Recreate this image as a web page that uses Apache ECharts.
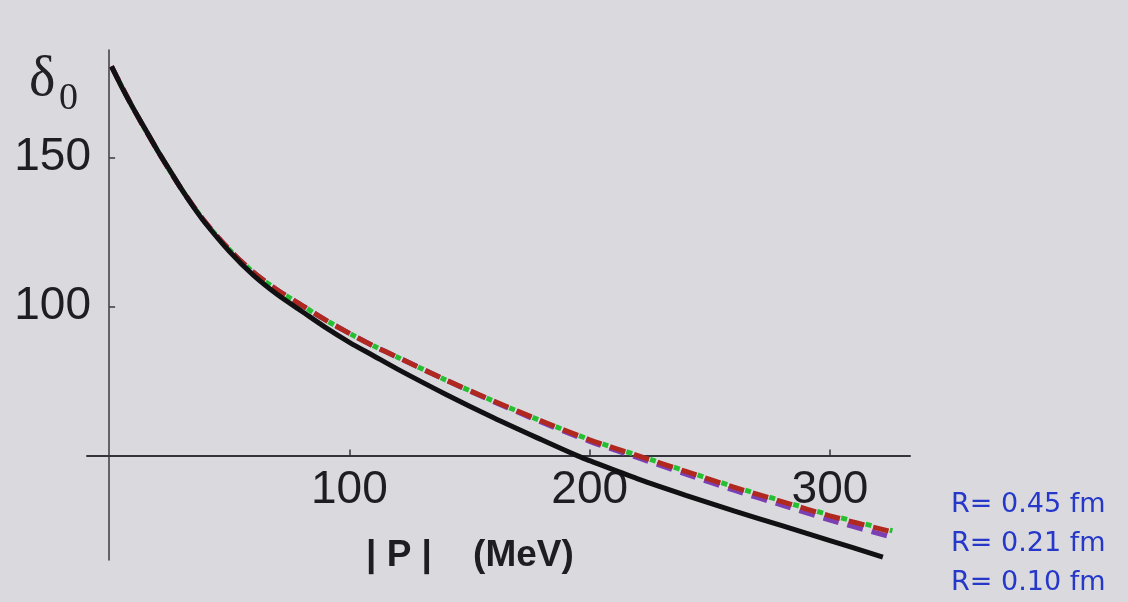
<!DOCTYPE html>
<html><head><meta charset="utf-8">
<script src="https://cdn.jsdelivr.net/npm/echarts@6/dist/echarts.min.js"></script>
<style>html,body{margin:0;padding:0;background:#d9d9de}#c{width:1128px;height:602px}</style>
</head><body><div id="c"></div>
<script>
// ---- data ----
const xTicks = [100, 200, 300];
const yTicks = [100, 150];
const pBlack = [1, 5, 10, 15, 20, 25, 30, 35, 40, 50, 60, 70, 80, 90, 100, 110, 120, 140, 160, 180, 195, 200, 220, 240, 260, 280, 300, 322];
const deltaBlack = [180.5, 174, 166.5, 159.5, 152.5, 146, 139.5, 133.5, 128, 118.5, 110.5, 104, 98.5, 93, 88, 83.5, 79, 70.6, 62.7, 55.3, 49.9, 48.3, 42.2, 36.7, 31.5, 26.5, 21.5, 16];
const pDashed = [1, 10, 20, 30, 40, 50, 60, 70, 80, 90, 100, 110, 120, 140, 160, 180, 200, 220, 240, 260, 280, 300, 326];
const deltaR045 = [180.5, 166.5, 152.5, 139.5, 128.3, 119.1, 111.5, 105.5, 100.5, 95.5, 91, 86.8, 83, 75.4, 68.3, 61.6, 55.4, 50.1, 44.8, 39.6, 34.8, 30.1, 24.8];
const deltaR021 = [180.5, 166.5, 152.5, 139.5, 128.3, 119.1, 111.5, 105.5, 100.5, 95.5, 91, 86.8, 83, 75.4, 68.3, 61.6, 55.3, 50, 44.7, 39.4, 34.6, 29.8, 24.4];
const deltaR010 = [180.5, 166.5, 152.5, 139.5, 128.3, 119.1, 111.5, 105.5, 100.5, 95.5, 91, 86.8, 83, 75.4, 68.1, 61.2, 54.8, 49.3, 43.8, 38.4, 33.4, 28.4, 22.6];
const seriesNames = ['R= 0.45 fm', 'R= 0.21 fm', 'R= 0.10 fm'];
const yTitle = 'δ';
const ySub = '0';
const xTitle = '| P |    (MeV)';

// ---- layout ----
const xMin = -9.2, xMax = 333.3, yMin = 15, yMax = 186;
const grid = {left: 87, right: 218, top: 50, bottom: 42};
const gridH = 602 - grid.top - grid.bottom;
const xAxisOffset = -(50 - yMin) * gridH / (yMax - yMin);

const zip = (a, b) => a.map((v, i) => [v, b[i]]);
const tickFont = {fontSize: 46, fontFamily: 'Liberation Sans', color: '#1e1e22'};

const chart = echarts.init(document.getElementById('c'), null, {renderer: 'canvas'});
chart.setOption({
  backgroundColor: '#d9d9de',
  animation: false,
  grid: grid,
  legend: {
    data: seriesNames, orient: 'vertical', left: 946, top: 485, height: 140, padding: 0,
    icon: 'none', itemWidth: 0, itemHeight: 0, itemGap: 0, selectedMode: false,
    textStyle: {color: '#2638c9', fontSize: 27, fontFamily: 'DejaVu Sans', lineHeight: 39}
  },
  xAxis: {
    type: 'value', min: xMin, max: xMax, offset: xAxisOffset,
    splitLine: {show: false},
    axisLine: {show: true, onZero: false, lineStyle: {color: '#34343c', width: 2}},
    axisTick: {show: true, inside: true, length: 6, customValues: xTicks, lineStyle: {color: '#34343c', width: 1.5}},
    axisLabel: Object.assign({customValues: xTicks, margin: 12}, tickFont)
  },
  yAxis: {
    type: 'value', min: yMin, max: yMax,
    splitLine: {show: false},
    axisLine: {show: true, onZero: true, lineStyle: {color: '#3a3a42', width: 1.5}},
    axisTick: {show: true, inside: true, length: 6, customValues: yTicks, lineStyle: {color: '#3a3a42', width: 1.5}},
    axisLabel: Object.assign({customValues: yTicks, margin: -4}, tickFont)
  },
  graphic: [
    {type: 'text', left: 29, top: 52, style: {text: yTitle, font: '56px "Liberation Serif"', fill: '#222226'}},
    {type: 'text', left: 59, top: 80, style: {text: ySub, font: '38px "Liberation Serif"', fill: '#222226'}},
    {type: 'text', left: 366, top: 537, style: {text: xTitle, font: 'bold 37px "Liberation Sans"', fill: '#1e1e22'}}
  ],
  series: [
    {name: seriesNames[2], type: 'line', data: zip(pDashed, deltaR010), showSymbol: false, smooth: 0.3, z: 3,
     lineStyle: {color: '#7b3fb4', width: 5, type: [16, 9]}},
    {name: seriesNames[1], type: 'line', data: zip(pDashed, deltaR021), showSymbol: false, smooth: 0.3, z: 4,
     lineStyle: {color: '#b0281e', width: 5, type: [16, 9]}},
    {name: seriesNames[0], type: 'line', data: zip(pDashed, deltaR045), showSymbol: false, smooth: 0.3, z: 5,
     lineStyle: {color: '#26bf32', width: 5, type: [6, 19], dashOffset: 8}},
    {name: 'R → 0', type: 'line', data: zip(pBlack, deltaBlack), showSymbol: false, smooth: 0.3, z: 6,
     lineStyle: {color: '#111114', width: 5}}
  ]
});
</script></body></html>
